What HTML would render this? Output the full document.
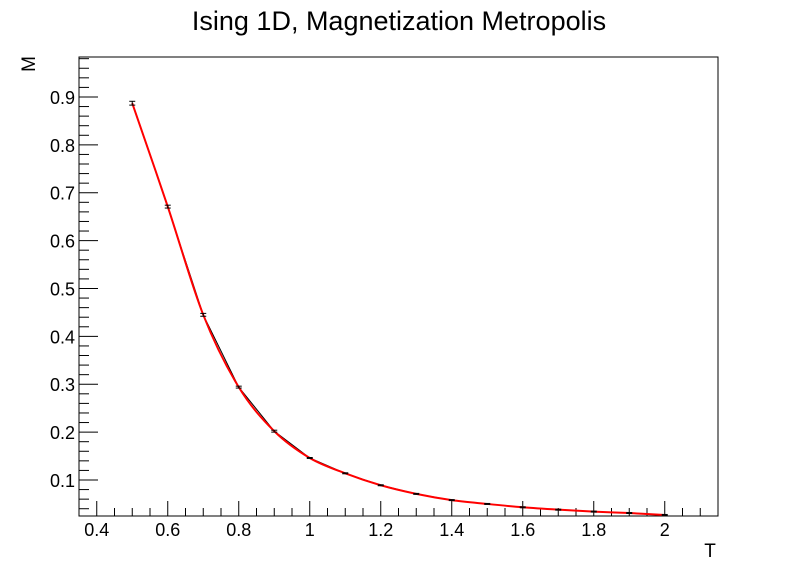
<!DOCTYPE html>
<html><head><meta charset="utf-8"><style>
body{margin:0;background:#fff}
svg{display:block;font-family:"Liberation Sans",sans-serif}
</style></head><body>
<svg id="chart" width="798" height="574" viewBox="0 0 798 574">
<rect width="798" height="574" fill="#fff"/>
<text x="399" y="30" text-anchor="middle" font-size="27">Ising 1D, Magnetization Metropolis</text>
<rect x="79" y="57" width="639" height="459" fill="none" stroke="#000" stroke-width="1"/>
<g id="axes"></g>
<g id="series"></g>
<text transform="translate(35,64) rotate(-90)" font-size="19" text-anchor="middle">M</text>
<text x="710" y="557" font-size="19" text-anchor="middle">T</text>
</svg>
<script>
const temps=[0.5,0.6,0.7,0.8,0.9,1.0,1.1,1.2,1.3,1.4,1.5,1.6,1.7,1.8,1.9,2.0];
const mags=[0.887,0.671,0.445,0.294,0.202,0.146,0.114,0.089,0.071,0.058,0.050,0.043,0.038,0.034,0.031,0.027];
const errs=[0.004,0.003,0.003,0.002,0.002,0.001,0.001,0.001,0.001,0.001,0.001,0.001,0.001,0.001,0.001,0.001];
const xTicks=[0.4,0.6,0.8,1,1.2,1.4,1.6,1.8,2];
const xTickLabels=["0.4","0.6","0.8","1","1.2","1.4","1.6","1.8","2"];
const yTicks=[0.1,0.2,0.3,0.4,0.5,0.6,0.7,0.8,0.9];
const yTickLabels=["0.1","0.2","0.3","0.4","0.5","0.6","0.7","0.8","0.9"];
const NS="http://www.w3.org/2000/svg";
const X0=79,X1=718,Y0=516,Y1=57,xmin=0.35,xmax=2.15,ymin=0.0248,ymax=0.9835;
const sx=v=>X0+(v-xmin)/(xmax-xmin)*(X1-X0);
const sy=v=>Y0-(v-ymin)/(ymax-ymin)*(Y0-Y1);
function mk(tag,attrs,parent){const e=document.createElementNS(NS,tag);for(const k in attrs)e.setAttribute(k,attrs[k]);parent.appendChild(e);return e;}
const axes=document.getElementById('axes');
for(let i=0;i<=36;i++){const v=0.35+i*0.05;if(v>2.151)break;const x=sx(v);const major=Math.abs(v*5-Math.round(v*5))<1e-6;
const t=mk('line',{x1:x,x2:x,y1:Y0,y2:Y0-(major?15:8),stroke:'#000'},axes);

}
xTicks.forEach((v,i)=>{const t=mk('text',{x:sx(v),y:Y0+20,'text-anchor':'middle','font-size':'18'},axes);t.textContent=xTickLabels[i];

});
for(let i=0;i<60;i++){const v=0.04+i*0.02;if(v>ymax)break;const y=sy(v);const major=Math.abs(v*10-Math.round(v*10))<1e-6;
const t=mk('line',{x1:X0,x2:X0+(major?19:10),y1:y,y2:y,stroke:'#000'},axes);

}
yTicks.forEach((v,i)=>{const t=mk('text',{x:X0-4,y:sy(v)+7,'text-anchor':'end','font-size':'18'},axes);t.textContent=yTickLabels[i];

});
const ser=document.getElementById('series');
const pts=temps.map((t,i)=>sx(t)+','+sy(mags[i])).join(' ');
const bl=mk('polyline',{points:pts,fill:'none',stroke:'#000','stroke-width':'1'},ser);


let d='M'+sx(temps[0])+','+sy(mags[0]);
for(let i=0;i<temps.length-1;i++){
 const p0=[sx(temps[Math.max(i-1,0)]),sy(mags[Math.max(i-1,0)])],p1=[sx(temps[i]),sy(mags[i])],p2=[sx(temps[i+1]),sy(mags[i+1])],p3=[sx(temps[Math.min(i+2,temps.length-1)]),sy(mags[Math.min(i+2,temps.length-1)])];
 const c1=[p1[0]+(p2[0]-p0[0])/6,p1[1]+(p2[1]-p0[1])/6],c2=[p2[0]-(p3[0]-p1[0])/6,p2[1]-(p3[1]-p1[1])/6];
 d+=' C'+c1+' '+c2+' '+p2;}
const fit=mk('path',{d:d,fill:'none',stroke:'#f00','stroke-width':'2'},ser);


temps.forEach((t,i)=>{const x=sx(t),ya=sy(mags[i]+errs[i]),yb=sy(mags[i]-errs[i]);
const g=mk('g',{stroke:'#000','stroke-width':'1'},ser);


mk('line',{x1:x,x2:x,y1:ya,y2:yb},g);
mk('line',{x1:x-3,x2:x+3,y1:ya,y2:ya},g);
mk('line',{x1:x-3,x2:x+3,y1:yb,y2:yb},g);});
</script>
</body></html>
